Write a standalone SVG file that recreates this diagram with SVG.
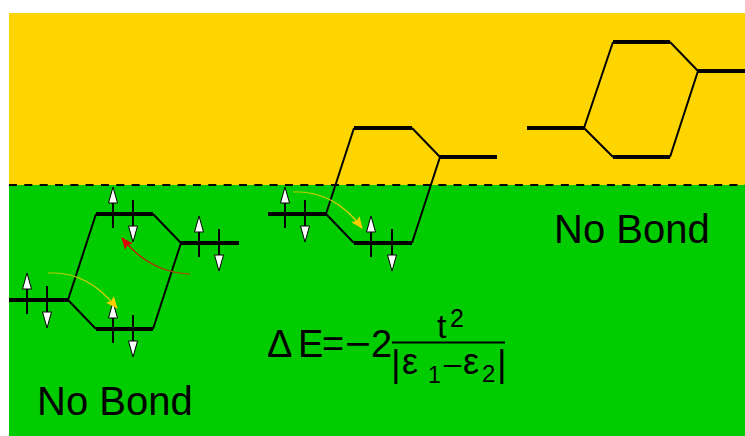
<svg xmlns="http://www.w3.org/2000/svg" width="745" height="436" viewBox="0 0 745 436">
<style>
.lvl{stroke:#000;stroke-width:4;fill:none}
.cn{stroke:#000;stroke-width:2;fill:none}
.t{font-family:"Liberation Sans",Arial,sans-serif;fill:#000}
</style>
<defs>
<g id="up"><line x1="0" y1="14" x2="0" y2="-12" stroke="#000" stroke-width="2"/><polygon points="0,-27 -4.5,-11 4.5,-11" fill="#fff" stroke="#000" stroke-width="1"/></g>
<g id="dn"><line x1="0" y1="-14" x2="0" y2="12" stroke="#000" stroke-width="2"/><polygon points="0,28 -4.5,12 4.5,12" fill="#fff" stroke="#000" stroke-width="1"/></g>
<marker id="hy" viewBox="0 0 12 10" refX="11" refY="5" markerWidth="13" markerHeight="10" markerUnits="userSpaceOnUse" orient="auto"><path d="M0,0 L12,5 L0,10 L2,5 z" fill="#FFCC00"/></marker>
<marker id="hr" viewBox="0 0 12 10" refX="11" refY="5" markerWidth="13" markerHeight="10" markerUnits="userSpaceOnUse" orient="auto"><path d="M0,0 L12,5 L0,10 L2,5 z" fill="#DD0000"/></marker>
<linearGradient id="gy1" gradientUnits="userSpaceOnUse" x1="48" y1="0" x2="117" y2="0"><stop offset="0" stop-color="#88cc00"/><stop offset="1" stop-color="#FFD000"/></linearGradient>
<linearGradient id="gy2" gradientUnits="userSpaceOnUse" x1="293" y1="0" x2="362" y2="0"><stop offset="0" stop-color="#88cc00"/><stop offset="1" stop-color="#FFD000"/></linearGradient>
<linearGradient id="gr" gradientUnits="userSpaceOnUse" x1="190" y1="0" x2="122" y2="0"><stop offset="0" stop-color="#886600"/><stop offset="1" stop-color="#DD0000"/></linearGradient>
</defs>
<g id="background">
<rect x="9" y="13" width="736" height="172" fill="#FFD500"/>
<rect x="9" y="185" width="736" height="251" fill="#00CC00"/>
<line x1="9" y1="185" x2="745" y2="185" stroke="#000" stroke-width="2" stroke-dasharray="8 7.33"/>
</g>
<g id="connectors">
<path class="cn" d="M68,300 L96,214 M68,300 L96,329 M153,214 L181,243 M153,329 L181,243"/>
<path class="cn" d="M326,214 L354,128 M326,214 L354,243 M412,128 L440,157 M412,243 L440,157"/>
<path class="cn" d="M584,128 L613,42 M584,128 L613,157 M670,42 L698,71 M670,157 L698,71"/>
</g>
<g id="diagram1">
<line class="lvl" x1="9" y1="300" x2="68" y2="300"/>
<line class="lvl" x1="96" y1="214" x2="153" y2="214"/>
<line class="lvl" x1="96" y1="329" x2="153" y2="329"/>
<line class="lvl" x1="181" y1="243" x2="239" y2="243"/>
<use href="#up" x="27" y="300"/><use href="#dn" x="47" y="300"/>
<use href="#up" x="113" y="214"/><use href="#dn" x="133" y="214"/>
<use href="#up" x="113" y="329"/><use href="#dn" x="133" y="329"/>
<use href="#up" x="199" y="243"/><use href="#dn" x="219" y="243"/>
<path d="M48,273 C78,272 98,285 117,308" fill="none" stroke="url(#gy1)" stroke-width="1.3" marker-end="url(#hy)"/>
<path d="M190,274 C160,273 138,258 122,238" fill="none" stroke="url(#gr)" stroke-width="1.3" marker-end="url(#hr)"/>
</g>
<g id="diagram2">
<line class="lvl" x1="268" y1="214" x2="326" y2="214"/>
<line class="lvl" x1="354" y1="128" x2="412" y2="128"/>
<line class="lvl" x1="354" y1="243" x2="412" y2="243"/>
<line class="lvl" x1="440" y1="157" x2="497" y2="157"/>
<use href="#up" x="285" y="214"/><use href="#dn" x="305" y="214"/>
<use href="#up" x="371" y="243"/><use href="#dn" x="392" y="243"/>
<path d="M293,192 C323,191 345,205 362,228" fill="none" stroke="url(#gy2)" stroke-width="1.3" marker-end="url(#hy)"/>
</g>
<g id="diagram3">
<line class="lvl" x1="527" y1="128" x2="584" y2="128"/>
<line class="lvl" x1="613" y1="42" x2="670" y2="42"/>
<line class="lvl" x1="613" y1="157" x2="670" y2="157"/>
<line class="lvl" x1="698" y1="71" x2="745" y2="71"/>
</g>
<g id="labels">
<text class="t" x="37" y="415" font-size="40">No Bond</text>
<text class="t" x="554" y="243" font-size="40">No Bond</text>
</g>
<g id="formula">
<text class="t" x="267" y="357" font-size="38">Δ</text>
<text class="t" x="298" y="357" font-size="38">E</text>
<text class="t" x="322" y="357" font-size="38">=</text>
<text class="t" x="345" y="357" font-size="38" textLength="26" lengthAdjust="spacingAndGlyphs">−</text>
<text class="t" x="371" y="357" font-size="38">2</text>
<line x1="392" y1="342.5" x2="505" y2="342.5" stroke="#000" stroke-width="2"/>
<text class="t" x="437" y="338" font-size="34">t</text>
<text class="t" x="450" y="327" font-size="25">2</text>
<text class="t" x="391" y="376" font-size="37">|</text>
<text class="t" x="402" y="374" font-size="36">ε</text>
<text class="t" x="428" y="383" font-size="23">1</text>
<text class="t" x="442" y="376" font-size="30" textLength="21" lengthAdjust="spacingAndGlyphs">−</text>
<text class="t" x="463" y="374" font-size="36">ε</text>
<text class="t" x="482" y="382" font-size="24">2</text>
<text class="t" x="497" y="376" font-size="37">|</text>
</g>
</svg>
